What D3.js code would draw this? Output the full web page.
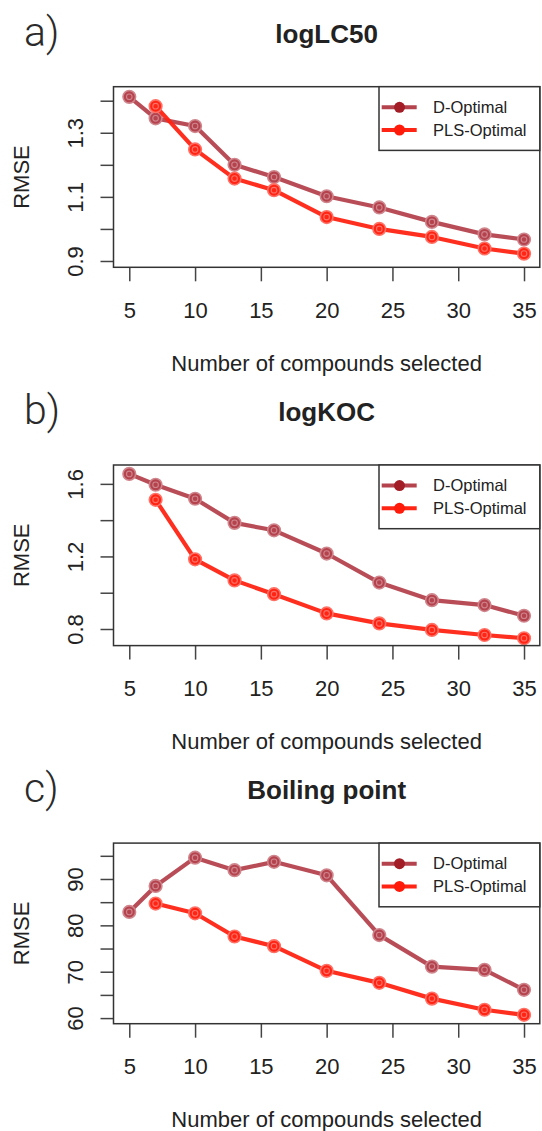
<!DOCTYPE html>
<html>
<head>
<meta charset="utf-8">
<script src="https://cdn.jsdelivr.net/npm/d3@7"></script>
<style>
  body { margin: 0; background: #fff; }
  text { font-family: "Liberation Sans", Arial, sans-serif; fill: #222; }
</style>
</head>
<body>
<script>
// compounds selected (x values)
const nSelectedD = [5, 7, 10, 13, 16, 20, 24, 28, 32, 35];
const nSelectedPLS = [7, 10, 13, 16, 20, 24, 28, 32, 35];
const xTicks = [5, 10, 15, 20, 25, 30, 35];

// RMSE
const lc50D   = [1.412, 1.345, 1.321, 1.200, 1.162, 1.102, 1.067, 1.022, 0.983, 0.967];
const lc50PLS = [1.383, 1.248, 1.157, 1.121, 1.037, 1.000, 0.975, 0.939, 0.923];
const kocD    = [1.655, 1.595, 1.518, 1.385, 1.344, 1.216, 1.056, 0.959, 0.932, 0.873];
const kocPLS  = [1.512, 1.184, 1.068, 0.992, 0.886, 0.831, 0.795, 0.767, 0.749];
const bpD     = [82.9, 88.5, 94.6, 91.9, 93.7, 90.8, 77.9, 71.1, 70.4, 66.1];
const bpPLS   = [84.7, 82.6, 77.6, 75.5, 70.2, 67.6, 64.2, 61.8, 60.7];

const panelLetters = ['a)', 'b)', 'c)'];
const panelTitles = ['logLC50', 'logKOC', 'Boiling point'];
const lc50Ticks = [0.9, 1.0, 1.1, 1.2, 1.3, 1.4];
const lc50Labels = [0.9, 1.1, 1.3];
const kocTicks = [0.8, 1.0, 1.2, 1.4, 1.6];
const kocLabels = [0.8, 1.2, 1.6];
const bpTicks = [60, 65, 70, 75, 80, 85, 90, 95];
const bpLabels = [60, 70, 80, 90];
const seriesNames = ['D-Optimal', 'PLS-Optimal'];

const W = 542, H = 1131;
const colD = '#b5434e', colPLS = '#ff2414';
const legendDot = ['#a31d27', '#ff1a0a'];

const panels = [
    {d: lc50D, p: lc50PLS, ticks: lc50Ticks, labels: lc50Labels, fmt: d3.format('.1f'), dom: [0.8803, 1.4437]},
    {d: kocD, p: kocPLS, ticks: kocTicks, labels: kocLabels, fmt: d3.format('.1f'), dom: [0.7085, 1.704]},
    {d: bpD, p: bpPLS, ticks: bpTicks, labels: bpLabels, fmt: d3.format('d'), dom: [58.79, 97.74]}
];
const offsets = [0, 378.3, 756.4];

const svg = d3.select('body').append('svg').attr('width', W).attr('height', H);

const x = d3.scaleLinear().domain([3.8, 36.2]).range([113.5, 539.8]);
const plotLeft = x.range()[0], plotRight = x.range()[1];
const midX = (plotLeft + plotRight) / 2;

panels.forEach((pn, i) => {
    const oy = offsets[i];
    const top = 86.7 + oy, bottom = 267.3 + oy;
    const g = svg.append('g');
    const y = d3.scaleLinear().domain(pn.dom).range([bottom, top]);

    // letter + title
    g.append('text').attr('x', 24).attr('y', 46 + oy)
        .style('font-family', 'Roboto, Lato, "Open Sans", sans-serif')
        .style('font-weight', 300).style('font-size', '41px').style('fill', '#2a2a2a')
        .text(panelLetters[i]);
    g.append('text').attr('x', midX).attr('y', 43 + oy)
        .attr('text-anchor', 'middle').style('font-weight', 'bold').style('font-size', '26px')
        .text(panelTitles[i]);

    // x axis
    const xa = g.append('g').attr('transform', `translate(0,${bottom})`)
        .call(d3.axisBottom(x).tickValues(xTicks).tickSize(14).tickPadding(21));
    xa.select('.domain').remove();
    xa.selectAll('line').attr('stroke', '#444').attr('stroke-width', 1.5);
    xa.selectAll('text').style('font-size', '22px').style('font-family', '"Liberation Sans", Arial, sans-serif').attr('fill', '#222');

    // y axis
    const ya = g.append('g').attr('transform', `translate(${plotLeft},0)`)
        .call(d3.axisLeft(y).tickValues(pn.ticks).tickSize(13)
            .tickFormat(v => pn.labels.some(l => Math.abs(l - v) < 1e-9) ? pn.fmt(v) : ''));
    ya.select('.domain').remove();
    ya.selectAll('line').attr('stroke', '#444').attr('stroke-width', 1.5);
    ya.selectAll('text')
        .attr('x', 0).attr('dy', '0.35em')
        .attr('transform', 'translate(-38.5,0) rotate(-90)')
        .attr('text-anchor', 'middle')
        .style('font-size', '22px').style('font-family', '"Liberation Sans", Arial, sans-serif').attr('fill', '#222');

    // axis titles
    g.append('text').attr('transform', `translate(21.7,${(top + bottom) / 2}) rotate(-90)`)
        .attr('text-anchor', 'middle').attr('dy', '0.35em').style('font-size', '22px')
        .text('RMSE');
    g.append('text').attr('x', midX).attr('y', 363 + oy).attr('dy', '0.35em')
        .attr('text-anchor', 'middle').style('font-size', '22px')
        .text('Number of compounds selected');

    // series
    const line = d3.line().x(d => x(d[0])).y(d => y(d[1]));
    const series = [
        {pts: d3.zip(nSelectedD, pn.d), col: colD},
        {pts: d3.zip(nSelectedPLS, pn.p), col: colPLS}
    ];
    series.forEach(s => {
        const light = d3.interpolateRgb(s.col, '#fff')(0.35);
        g.append('path').datum(s.pts).attr('d', line)
            .attr('fill', 'none').attr('stroke', s.col).attr('stroke-width', 4.2)
            .attr('stroke-linejoin', 'round').attr('opacity', 0.95);
        g.selectAll(null).data(s.pts).join('circle')
            .attr('cx', d => x(d[0])).attr('cy', d => y(d[1])).attr('r', 6.3)
            .attr('fill', s.col).attr('stroke', light).attr('stroke-width', 1.6);
        g.selectAll(null).data(s.pts).join('circle')
            .attr('cx', d => x(d[0])).attr('cy', d => y(d[1])).attr('r', 2.8)
            .attr('fill', 'none').attr('stroke', light).attr('stroke-width', 1.1);
    });

    // plot box
    g.append('rect').attr('x', plotLeft).attr('y', top)
        .attr('width', plotRight - plotLeft).attr('height', bottom - top)
        .attr('fill', 'none').attr('stroke', '#333').attr('stroke-width', 1.5);

    // legend
    const lg = g.append('g');
    lg.append('rect').attr('x', 379).attr('y', top).attr('width', plotRight - 379).attr('height', 63.7)
        .attr('fill', '#fff').attr('stroke', '#333').attr('stroke-width', 1.5);
    seriesNames.forEach((name, k) => {
        const ly = top + 20.6 + k * 22.7;
        const col = k === 0 ? colD : colPLS;
        lg.append('line').attr('x1', 381.7).attr('x2', 416.7).attr('y1', ly).attr('y2', ly)
            .attr('stroke', col).attr('stroke-width', 4);
        lg.append('circle').attr('cx', 399.5).attr('cy', ly).attr('r', 5.5).attr('fill', legendDot[k]);
        lg.append('text').attr('x', 433).attr('y', ly).attr('dy', '0.35em')
            .style('font-size', '16.5px').attr('fill', '#333').text(name);
    });
});
</script>
</body>
</html>
